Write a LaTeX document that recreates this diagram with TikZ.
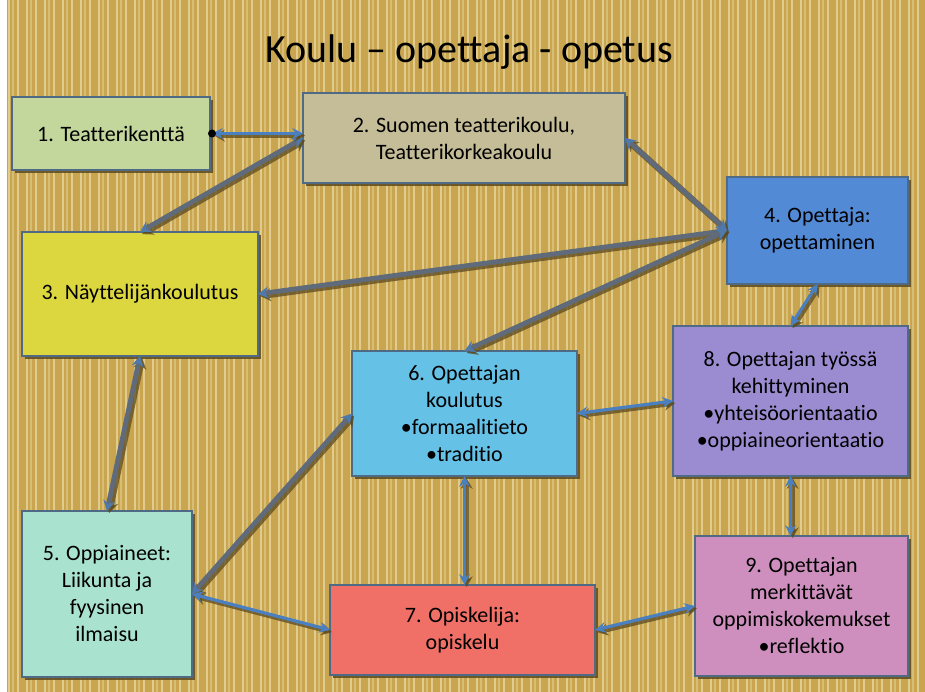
\documentclass[tikz,border=0pt]{standalone}
\usepackage{fontspec}
\setmainfont{Carlito}[Ligatures=NoCommon]
\usetikzlibrary{arrows.meta,shadows,calc}
\definecolor{bgcol}{HTML}{C8A54E}
\definecolor{stripecol}{HTML}{EBDDAA}
\definecolor{stripecolb}{HTML}{DCC47E}
\definecolor{bordercol}{HTML}{4F6A84}
\definecolor{shadcol}{HTML}{5C4A1E}
\definecolor{arrblue}{HTML}{4A7FC0}
\definecolor{linegray}{HTML}{5F6B7A}
\definecolor{cA}{HTML}{C3D69B}
\definecolor{cB}{HTML}{C4BD97}
\definecolor{cC}{HTML}{DCD73F}
\definecolor{cD}{HTML}{538AD6}
\definecolor{cE}{HTML}{A9E2CF}
\definecolor{cF}{HTML}{66C1E6}
\definecolor{cG}{HTML}{F07067}
\definecolor{cH}{HTML}{9B8BD0}
\definecolor{cI}{HTML}{CF8FBE}
\tikzset{
  boxnode/.style={draw=bordercol, line width=0.8pt, inner sep=2pt, outer sep=0pt, align=center,
    font=\fontsize{16.5}{20.25}\selectfont,
    drop shadow={shadow xshift=2.2pt, shadow yshift=-2.2pt, fill=shadcol, opacity=0.85}},
  blueconn/.style={draw=arrblue, line width=2.4pt, {Stealth[length=8pt,width=8pt]}-{Stealth[length=8pt,width=8pt]}},
  grayconn/.style={draw=linegray, line width=3.6pt, {Stealth[length=8pt,width=9pt,color=arrblue!70!linegray]}-{Stealth[length=8pt,width=9pt,color=arrblue!70!linegray]}},
  connshadow/.style={draw=shadcol, line width=#1, opacity=0.75, transform canvas={shift={(1.6pt,-1.6pt)}}},
}
\newcommand{\bconn}[2]{%
  \draw[connshadow=3.6pt, {Stealth[length=8pt,width=9pt]}-{Stealth[length=8pt,width=9pt]}] #1 -- #2;
  \draw[blueconn] #1 -- #2;}
\newcommand{\gconn}[2]{%
  \draw[connshadow=4.6pt, {Stealth[length=8pt,width=10pt]}-{Stealth[length=8pt,width=10pt]}] #1 -- #2;
  \draw[grayconn] #1 -- #2;}
\begin{document}
\begin{tikzpicture}[x=0.75pt,y=-0.75pt]
\useasboundingbox (0,0) rectangle (925,692);
% background
\fill[white] (0,0) rectangle (925,692);
\fill[bgcol] (7,0) rectangle (925,692);
\foreach \x in {9,18,...,925} {
  \draw[stripecol, line width=1.4pt, opacity=0.7] (\x,0) -- (\x,692);
}
\foreach \x in {13,31,...,925} {
  \draw[stripecolb, line width=1pt, opacity=0.8] (\x,0) -- (\x,692);
}
% title
\node[font=\fontsize{30}{36}\selectfont] (title) at (469,52) {Koulu – opettaja - opetus};
% boxes
\node[boxnode, fill=cA, minimum width=148.5pt, minimum height=54.75pt] (n1) at (111,133.5) {1. Teatterikenttä};
\node[boxnode, fill=cB, minimum width=241.5pt, minimum height=67.5pt] (n2) at (464,138) {2. Suomen teatterikoulu,\\Teatterikorkeakoulu};
\node[boxnode, fill=cC, minimum width=177pt, minimum height=93pt] (n3) at (140,294) {3. Näyttelijänkoulutus};
\node[boxnode, fill=cD, minimum width=135.75pt, minimum height=80.25pt] (n4) at (817.5,230.5) {4. Opettaja:\\opettaminen};
\node[boxnode, fill=cE, minimum width=127.5pt, minimum height=124.5pt] (n5) at (107,594) {5. Oppiaineet:\\Liikunta ja\\fyysinen\\ilmaisu};
\node[boxnode, fill=cF, minimum width=168.75pt, minimum height=93.75pt] (n6) at (464.5,413.5) {6. Opettajan\\koulutus\\•formaalitieto\\•traditio};
\node[boxnode, fill=cG, minimum width=198.75pt, minimum height=67.5pt] (n7) at (462.5,630) {7. Opiskelija:\\opiskelu};
\node[boxnode, fill=cH, minimum width=176.25pt, minimum height=112.5pt] (n8) at (790.5,401) {8. Opettajan työssä\\kehittyminen\\•yhteisöorientaatio\\•oppiaineorientaatio};
\node[boxnode, fill=cI, minimum width=159.75pt, minimum height=105pt] (n9) at (801.5,606) {9. Opettajan\\merkittävät\\oppimiskokemukset\\•reflektio};
% gray connectors
\gconn{(n3.north)}{(n2.west)}
\gconn{(n2.east)}{(n4.west)}
\gconn{(n4.west)}{(n3.east)}
\gconn{(n4.west)}{(n6.north)}
\gconn{(n3.south)}{(n5.north)}
\gconn{(n5.east)}{(n6.west)}
% blue connectors
\coordinate (dot1) at ($(n1.east)+(2,0)$);
\bconn{(dot1)}{(n2.west |- n1.east)}
\fill[black] (dot1) circle (4);
\bconn{(n5.east)}{(n7.west)}
\bconn{(n6.south)}{(n6.south |- n7.north)}
\bconn{(n6.east)}{(n8.west)}
\bconn{(n4.south)}{(n8.north)}
\bconn{(n8.south)}{(n8.south |- n9.north)}
\bconn{(n7.east)}{(n9.west)}
\end{tikzpicture}
\end{document}
